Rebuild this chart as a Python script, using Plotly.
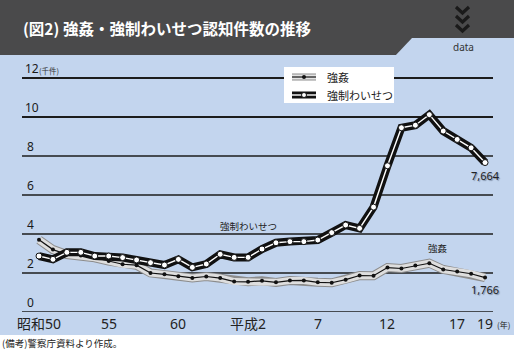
import plotly.graph_objects as go

# ---------------- data ----------------
years = list(range(1975, 2008))
rape = [3.70, 3.20, 2.95, 2.90, 2.78, 2.61, 2.45, 2.40, 2.00, 1.93, 1.83, 1.75, 1.82, 1.74, 1.56,
        1.55, 1.60, 1.52, 1.61, 1.62, 1.52, 1.50, 1.66, 1.87, 1.86, 2.28, 2.23, 2.38, 2.50, 2.18,
        2.08, 1.96, 1.766]
indecent = [2.87, 2.70, 3.06, 3.06, 2.87, 2.87, 2.79, 2.67, 2.53, 2.41, 2.70, 2.29, 2.46, 2.96, 2.80,
            2.80, 3.23, 3.55, 3.61, 3.61, 3.69, 4.07, 4.46, 4.29, 5.38, 7.50, 9.45, 9.58, 10.12, 9.28,
            8.85, 8.42, 7.664]
xtick_vals = [1975, 1980, 1985, 1990, 1995, 2000, 2005, 2007]
xtick_text = ["昭和50", "55", "60", "平成2", "7", "12", "17", "19"]
ytick_vals = [0, 2, 4, 6, 8, 10, 12]
ytick_text = ["0", "2", "4", "6", "8", "10", "12"]
series_names = ["強姦", "強制わいせつ"]
end_labels = ["1,766", "7,664"]

W, H = 514, 349
BLUE = "#c3d5ee"
DARK = "#4a4a4b"
FONT = "Noto Sans, Noto Sans CJK JP, sans-serif"
CJK = "Noto Sans CJK JP, sans-serif"

def px(x):
    return x / W

def py(y):
    return 1 - y / H

fig = go.Figure()

# rape: grey band with black center line
fig.add_trace(go.Scatter(x=years, y=rape, mode="lines", line=dict(color="#8c8c8c", width=9),
                         hoverinfo="skip", showlegend=False))
fig.add_trace(go.Scatter(x=years, y=rape, mode="lines", line=dict(color="#dedede", width=7),
                         hoverinfo="skip", showlegend=False))
fig.add_trace(go.Scatter(x=years, y=rape, mode="lines+markers", name=series_names[0],
                         line=dict(color="#111111", width=1.2),
                         marker=dict(color="#111111", size=4), showlegend=False))
# indecent assault: thick black with white center
fig.add_trace(go.Scatter(x=years, y=indecent, mode="lines", line=dict(color="#111111", width=8),
                         hoverinfo="skip", showlegend=False))
fig.add_trace(go.Scatter(x=years, y=indecent, mode="lines+markers", name=series_names[1],
                         line=dict(color="#ffffff", width=1.4),
                         marker=dict(color="#ffffff", size=6, line=dict(color="#111111", width=1)),
                         showlegend=False))

shapes = []
# backgrounds
shapes.append(dict(type="rect", xref="paper", yref="paper", x0=0, x1=1, y0=py(335), y1=py(55),
                   fillcolor=BLUE, line=dict(width=0), layer="below"))
shapes.append(dict(type="rect", xref="paper", yref="paper", x0=0, x1=1, y0=py(55), y1=1,
                   fillcolor=DARK, line=dict(width=0), layer="below"))
shapes.append(dict(type="path", xref="paper", yref="paper",
                   path=f"M {px(395)} {py(56)} L {px(412)} {py(38)} L 1 {py(38)} L 1 {py(56)} Z",
                   fillcolor=BLUE, line=dict(width=0), layer="below"))
# chevrons
for i, cy in enumerate([7, 16, 25]):
    shapes.append(dict(type="path", xref="paper", yref="paper",
                       path=f"M {px(456)} {py(cy)} L {px(462.5)} {py(cy+6)} L {px(469)} {py(cy)}",
                       line=dict(color="#1a1a1a", width=3.2)))
# gridlines
for v in ytick_vals:
    shapes.append(dict(type="line", xref="paper", yref="y", x0=px(22), x1=px(493), y0=v, y1=v,
                       line=dict(color="#1c1c1c", width=2 if v >= 10 else 1.6), layer="below"))
# legend box
shapes.append(dict(type="rect", xref="paper", yref="paper", x0=px(284), x1=px(394),
                   y0=py(103), y1=py(67), fillcolor="#ffffff", line=dict(width=0)))
# legend symbol: rape
shapes.append(dict(type="path", xref="paper", yref="paper",
                   path=f"M {px(292)} {py(77)} L {px(316)} {py(77)}",
                   line=dict(color="#8c8c8c", width=7)))
shapes.append(dict(type="path", xref="paper", yref="paper",
                   path=f"M {px(292)} {py(77)} L {px(316)} {py(77)}",
                   line=dict(color="#e4e4e4", width=5)))
shapes.append(dict(type="line", xref="paper", yref="paper", x0=px(292), x1=px(316), y0=py(77), y1=py(77),
                   line=dict(color="#111111", width=1.2)))
shapes.append(dict(type="circle", xref="paper", yref="paper", x0=px(302), x1=px(306), y0=py(79), y1=py(75),
                   fillcolor="#111111", line=dict(width=0)))
# legend symbol: indecent
shapes.append(dict(type="path", xref="paper", yref="paper",
                   path=f"M {px(292)} {py(95)} L {px(316)} {py(95)}",
                   line=dict(color="#111111", width=7)))
shapes.append(dict(type="line", xref="paper", yref="paper", x0=px(292), x1=px(316), y0=py(95), y1=py(95),
                   line=dict(color="#ffffff", width=1.4)))
shapes.append(dict(type="circle", xref="paper", yref="paper", x0=px(301.5), x1=px(306.5), y0=py(97.5), y1=py(92.5),
                   fillcolor="#ffffff", line=dict(color="#111111", width=1)))

ann = []
ann.append(dict(text="<b>(図2) 強姦・強制わいせつ認知件数の推移</b>", xref="paper", yref="paper",
                x=px(21), y=py(28), xanchor="left", yanchor="middle", showarrow=False,
                font=dict(family=CJK, size=15.5, color="#ffffff")))
ann.append(dict(text="data", xref="paper", yref="paper", x=px(463), y=py(47), xanchor="center",
                yanchor="middle", showarrow=False, font=dict(family=FONT, size=10, color="#333333")))
# y tick labels above gridlines
for v, t in zip(ytick_vals, ytick_text):
    ann.append(dict(text=t, xref="paper", yref="y", x=px(23 if len(t) > 1 else 25), y=v,
                    xanchor="left", yanchor="bottom", yshift=-1, showarrow=False,
                    font=dict(family=FONT, size=12, color="#1a1a1a")))
ann.append(dict(text="(千件)", xref="paper", yref="y", x=px(37), y=12, xanchor="left", yanchor="bottom",
                yshift=0, showarrow=False, font=dict(family=CJK, size=7.5, color="#333333")))
# x tick labels
for v, t in zip(xtick_vals, xtick_text):
    ann.append(dict(text=t, xref="x", yref="paper", x=v, y=py(323), xanchor="center", yanchor="middle",
                    showarrow=False, font=dict(family=FONT, size=14, color="#222222")))
ann.append(dict(text="(年)", xref="x", yref="paper", x=2007, y=py(324), xshift=10, xanchor="left",
                yanchor="middle", showarrow=False, font=dict(family=CJK, size=8, color="#222222")))
# legend text
ann.append(dict(text=series_names[0], xref="paper", yref="paper", x=px(325), y=py(77), xanchor="left",
                yanchor="middle", showarrow=False, font=dict(family=CJK, size=11, color="#222222")))
ann.append(dict(text=series_names[1], xref="paper", yref="paper", x=px(325), y=py(95), xanchor="left",
                yanchor="middle", showarrow=False, font=dict(family=CJK, size=11, color="#222222")))
# series labels
ann.append(dict(text=series_names[1], xref="x", yref="y", x=1990, y=4.4, xanchor="center", yanchor="middle",
                showarrow=False, font=dict(family=CJK, size=9.5, color="#222222")))
ann.append(dict(text=series_names[0], xref="x", yref="y", x=2003.6, y=3.28, xanchor="center",
                yanchor="middle", showarrow=False, font=dict(family=CJK, size=9.5, color="#222222")))
# end labels
ann.append(dict(text=end_labels[1], xref="x", yref="y", x=years[-1], y=indecent[-1], yshift=-13,
                xanchor="center", yanchor="middle", showarrow=False,
                font=dict(family=FONT, size=11, color="#222222", shadow="1px 1px 1px #7f8fa8")))
ann.append(dict(text=end_labels[0], xref="x", yref="y", x=years[-1], y=rape[-1], yshift=-12,
                xanchor="center", yanchor="middle", showarrow=False,
                font=dict(family=FONT, size=11, color="#222222", shadow="1px 1px 1px #7f8fa8")))
# footer
ann.append(dict(text="(備考)警察庁資料より作成。", xref="paper", yref="paper", x=0, y=py(343),
                xanchor="left", yanchor="middle", showarrow=False,
                font=dict(family=CJK, size=9.5, color="#222222")))

fig.update_layout(
    width=W, height=H, autosize=False,
    margin=dict(l=0, r=0, t=0, b=0, pad=0),
    paper_bgcolor="#ffffff", plot_bgcolor="rgba(0,0,0,0)",
    xaxis=dict(domain=[px(22), px(493)], range=[1973.78, 2007.57], visible=False, fixedrange=True),
    yaxis=dict(domain=[1 - 312 / H, 1 - 60 / H], range=[0, (312 - 60) / 19.5], visible=False,
               fixedrange=True),
    shapes=shapes, annotations=ann, showlegend=False,
)

fig.write_html("out.html")
